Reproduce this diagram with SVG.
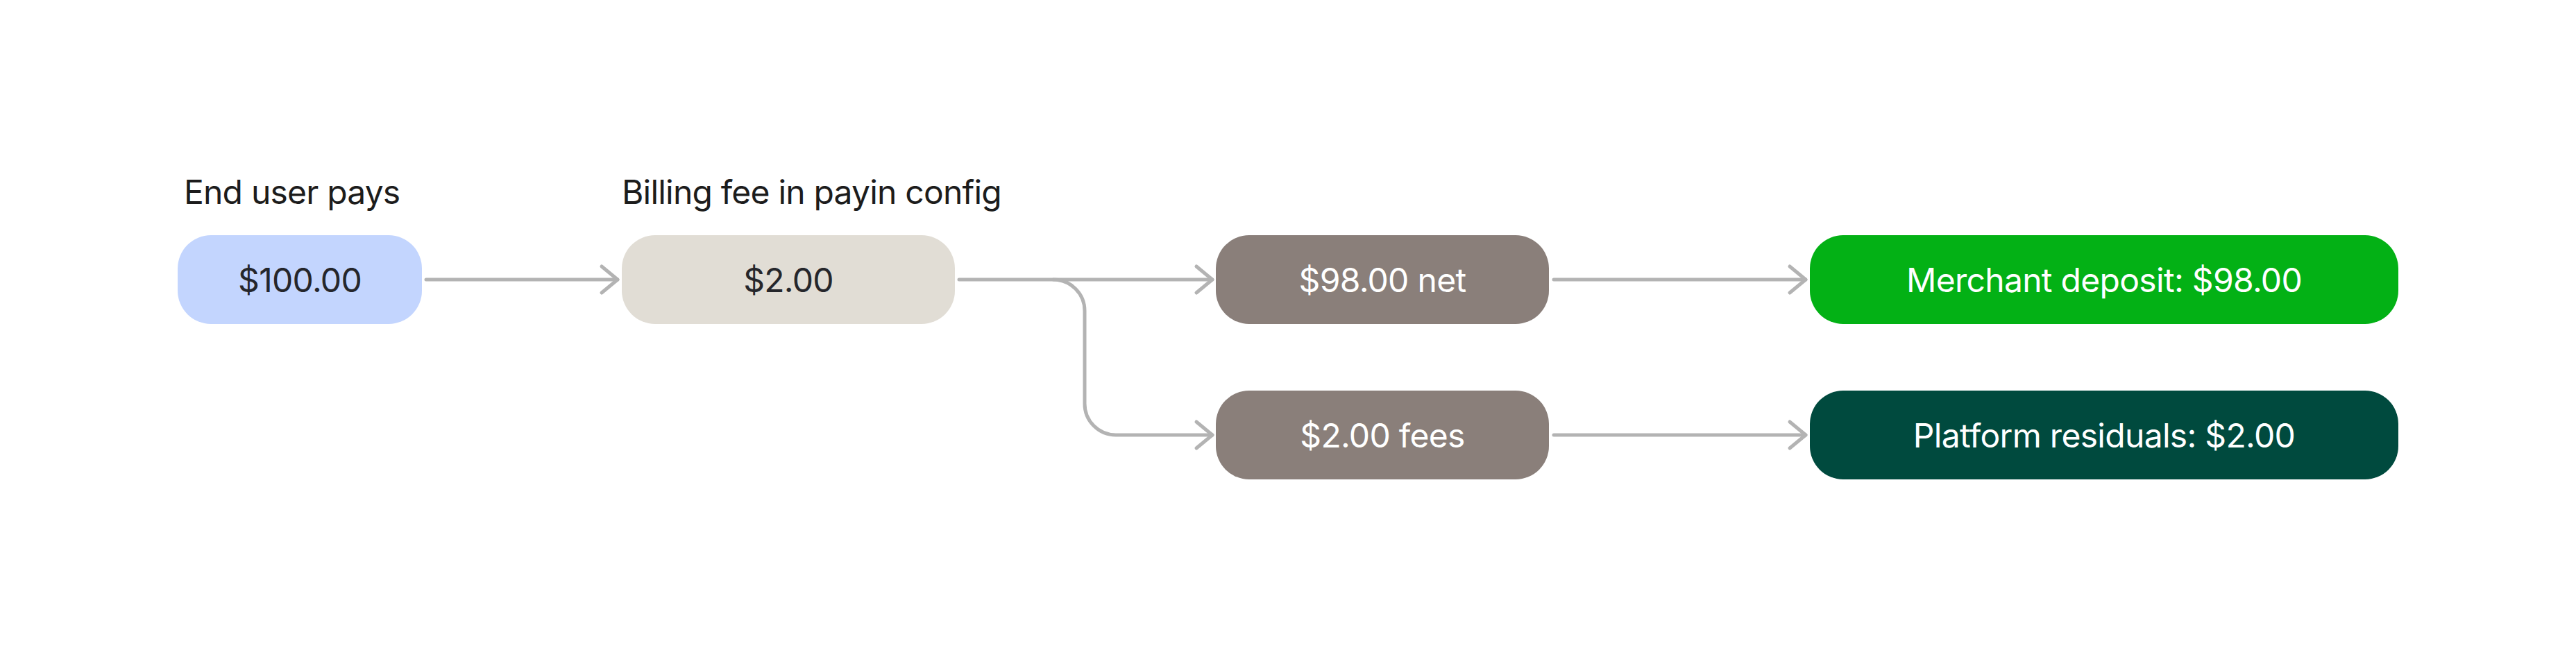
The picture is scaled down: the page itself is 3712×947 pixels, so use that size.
<svg xmlns="http://www.w3.org/2000/svg" width="3712" height="947" viewBox="0 0 3712 947">
<style>
.lbl{font-family:Inter,"Liberation Sans",sans-serif;font-size:48px;letter-spacing:-0.8px;fill:#1c1c1c}
.t{font-family:Inter,"Liberation Sans",sans-serif;font-size:48px;letter-spacing:-0.7px;text-anchor:middle}
.dark{fill:#25262b}
.light{fill:#ffffff}
.edge{fill:none;stroke:#b3b3b3;stroke-width:5;stroke-linecap:round;stroke-linejoin:round}
</style>
<defs>
<marker id="arr" markerUnits="userSpaceOnUse" viewBox="-30 -25 40 50" markerWidth="40" markerHeight="50" refX="0" refY="0" orient="auto">
<path d="M-23,-19 L0,0 L-23,19" fill="none" stroke="#b3b3b3" stroke-width="5" stroke-linecap="round" stroke-linejoin="round"/>
</marker>
</defs>
<rect width="3712" height="947" fill="#ffffff"/>
<g id="labels">
<text class="lbl" x="265" y="294">End user pays</text>
<text class="lbl" x="896" y="294">Billing fee in payin config</text>
</g>
<g id="connectors">
<path class="edge" d="M614,403 H890" marker-end="url(#arr)"/>
<path class="edge" d="M1382,403 H1747" marker-end="url(#arr)"/>
<path class="edge" d="M1518,403 A45,45 0 0 1 1563,448 V582 A45,45 0 0 0 1608,627 H1747" marker-end="url(#arr)"/>
<path class="edge" d="M2239,403 H2602" marker-end="url(#arr)"/>
<path class="edge" d="M2239,627 H2602" marker-end="url(#arr)"/>
</g>
<g id="node-enduser">
<rect x="256" y="339" width="352" height="128" rx="48" fill="#c3d5fe"/>
<text class="t dark" x="432" y="421">$100.00</text>
</g>
<g id="node-billing">
<rect x="896" y="339" width="480" height="128" rx="48" fill="#e1ddd5"/>
<text class="t dark" x="1136" y="421">$2.00</text>
</g>
<g id="node-net">
<rect x="1752" y="339" width="480" height="128" rx="48" fill="#8a7f7a"/>
<text class="t light" x="1992" y="421">$98.00 net</text>
</g>
<g id="node-fees">
<rect x="1752" y="563" width="480" height="128" rx="48" fill="#8a7f7a"/>
<text class="t light" x="1992" y="645">$2.00 fees</text>
</g>
<g id="node-merchant">
<rect x="2608" y="339" width="848" height="128" rx="48" fill="#03b115"/>
<text class="t light" x="3032" y="421">Merchant deposit: $98.00</text>
</g>
<g id="node-platform">
<rect x="2608" y="563" width="848" height="128" rx="48" fill="#004a3e"/>
<text class="t light" x="3032" y="645">Platform residuals: $2.00</text>
</g>
</svg>
